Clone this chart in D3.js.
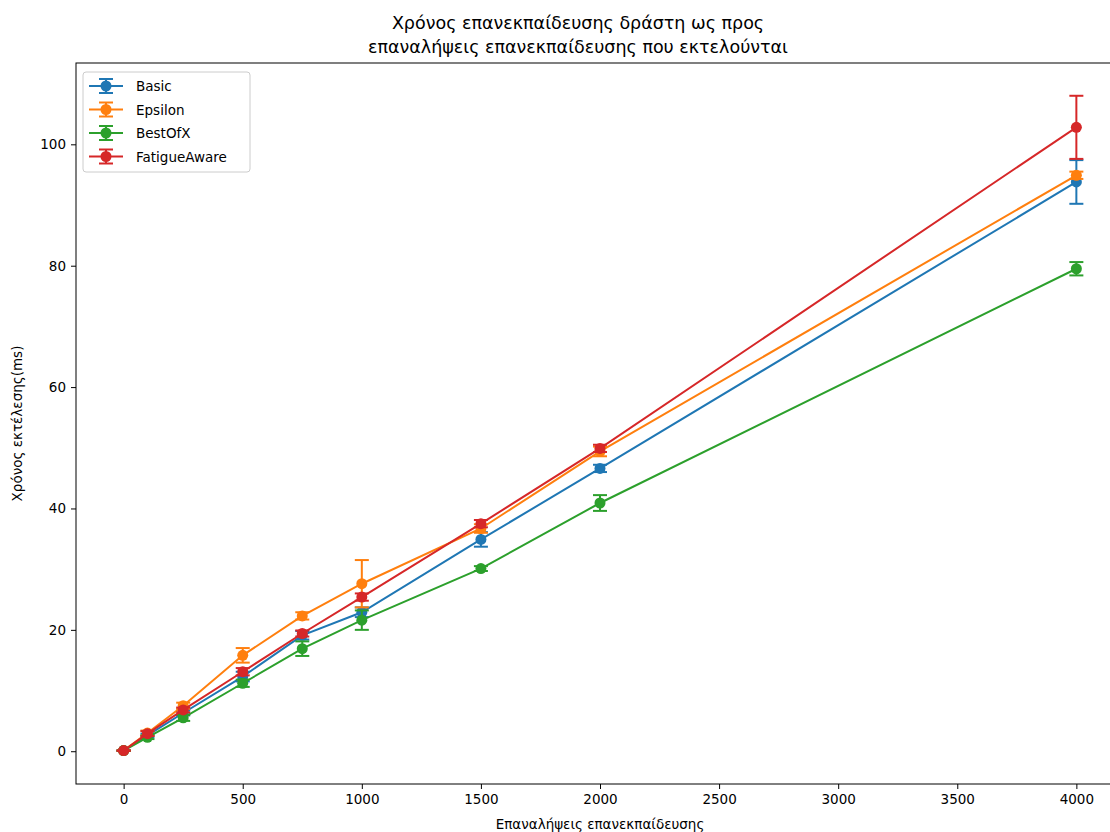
<!DOCTYPE html>
<html>
<head>
<meta charset="utf-8">
<script src="https://cdn.jsdelivr.net/npm/d3@7"></script>
<style>
  html, body { margin: 0; padding: 0; background: #fff; overflow: hidden; }
  svg { display: block; font-family: "DejaVu Sans", sans-serif; }
</style>
</head>
<body>
<svg id="chart" width="1110" height="832"></svg>
<script>
// Retraining iterations on the x axis
const iterations = [0, 100, 250, 500, 750, 1000, 1500, 2000, 4000];

// Mean execution time (ms) per strategy
const basicMean    = [0.1, 2.6, 6.3, 12.3, 19.1, 22.9, 34.9, 46.6, 93.8];
const epsilonMean  = [0.1, 3.0, 7.5, 15.8, 22.3, 27.6, 36.7, 49.4, 94.9];
const bestOfXMean  = [0.1, 2.3, 5.5, 11.2, 16.9, 21.6, 30.1, 40.9, 79.5];
const fatigueMean  = [0.1, 2.9, 6.8, 13.1, 19.4, 25.4, 37.5, 49.9, 102.8];

// Standard deviation per point
const basicErr    = [0.05, 0.3, 0.4, 0.8, 0.7, 0.8, 1.2, 0.6, 3.6];
const epsilonErr  = [0.05, 0.4, 0.5, 1.2, 0.6, 3.9, 0.7, 0.8, 0.6];
const bestOfXErr  = [0.05, 0.3, 0.5, 0.6, 1.2, 1.6, 0.4, 1.3, 1.1];
const fatigueErr  = [0.05, 0.4, 0.4, 0.6, 0.5, 0.6, 0.6, 0.6, 5.2];

const seriesNames  = ["Basic", "Epsilon", "BestOfX", "FatigueAware"];
const seriesColors = ["#1f77b4", "#ff7f0e", "#2ca02c", "#d62728"];
const xTicks = [0, 500, 1000, 1500, 2000, 2500, 3000, 3500, 4000];
const yTicks = [0, 20, 40, 60, 80, 100];

const titleLines = ["Χρόνος επανεκπαίδευσης δράστη ως προς", "επαναλήψεις επανεκπαίδευσης που εκτελούνται"];
const xLabel = "Επαναλήψεις επανεκπαίδευσης";
const yLabel = "Χρόνος εκτέλεσης(ms)";

const series = seriesNames.map((name, i) => ({
  name,
  color: seriesColors[i],
  mean: [basicMean, epsilonMean, bestOfXMean, fatigueMean][i],
  err: [basicErr, epsilonErr, bestOfXErr, fatigueErr][i]
}));

const svg = d3.select("#chart");
const plot = { left: 76, right: 1124, top: 63, bottom: 784 };

const x = d3.scaleLinear().domain([-200, 4200]).range([plot.left, plot.right]);
const y = d3.scaleLinear().domain([-5.4, 113.4]).range([plot.bottom, plot.top]);

// Title
svg.append("g").selectAll("text").data(titleLines).join("text")
  .attr("x", 578).attr("y", (d, i) => 29 + i * 24)
  .attr("text-anchor", "middle").attr("font-size", 17.5).attr("fill", "#000")
  .text(d => d);

// Axes
const xAxis = svg.append("g").attr("transform", `translate(0,${plot.bottom})`)
  .call(d3.axisBottom(x).tickValues(xTicks).tickSize(5).tickPadding(5).tickFormat(d3.format("d")));
const yAxis = svg.append("g").attr("transform", `translate(${plot.left},0)`)
  .call(d3.axisLeft(y).tickValues(yTicks).tickSize(5).tickPadding(5).tickFormat(d3.format("d")));
[xAxis, yAxis].forEach(a => {
  a.select(".domain").remove();
  a.selectAll("text").attr("font-size", 13.5).attr("fill", "#000").attr("font-family", "DejaVu Sans");
  a.selectAll("line").attr("stroke", "#000").attr("stroke-width", 1);
});

// Frame
svg.append("rect")
  .attr("x", plot.left).attr("y", plot.top)
  .attr("width", plot.right - plot.left).attr("height", plot.bottom - plot.top)
  .attr("fill", "none").attr("stroke", "#000").attr("stroke-width", 1);

// Axis labels
svg.append("text").attr("x", 600).attr("y", 829)
  .attr("text-anchor", "middle").attr("font-size", 13.5).text(xLabel);
svg.append("text").attr("transform", `translate(22,${(plot.top + plot.bottom) / 2}) rotate(-90)`)
  .attr("text-anchor", "middle").attr("font-size", 13.5).text(yLabel);

// Series: lines, error bars, markers
const line = d3.line().x(d => x(d[0])).y(d => y(d[1]));
const capHalf = 7;
const gData = svg.append("g");
series.forEach(s => {
  const g = gData.append("g");
  const pts = iterations.map((it, i) => [it, s.mean[i], s.err[i]]);
  g.append("path").datum(pts).attr("d", line)
    .attr("fill", "none").attr("stroke", s.color).attr("stroke-width", 2);
  const eb = g.append("g").selectAll("g").data(pts).join("g");
  eb.append("line")
    .attr("x1", d => x(d[0])).attr("x2", d => x(d[0]))
    .attr("y1", d => y(d[1] - d[2])).attr("y2", d => y(d[1] + d[2]))
    .attr("stroke", s.color).attr("stroke-width", 2);
  [-1, 1].forEach(sign => {
    eb.append("line")
      .attr("x1", d => x(d[0]) - capHalf).attr("x2", d => x(d[0]) + capHalf)
      .attr("y1", d => y(d[1] + sign * d[2])).attr("y2", d => y(d[1] + sign * d[2]))
      .attr("stroke", s.color).attr("stroke-width", 2);
  });
  g.append("g").selectAll("circle").data(pts).join("circle")
    .attr("cx", d => x(d[0])).attr("cy", d => y(d[1])).attr("r", 5.5)
    .attr("fill", s.color);
});

// Legend
const legend = svg.append("g").attr("transform", "translate(83,72)");
legend.append("rect").attr("width", 167).attr("height", 100).attr("rx", 3)
  .attr("fill", "#fff").attr("fill-opacity", 0.8).attr("stroke", "#ccc");
series.forEach((s, i) => {
  const gy = 14 + i * 23.5;
  const item = legend.append("g").attr("transform", `translate(0,${gy})`);
  item.append("line").attr("x1", 6).attr("x2", 40).attr("y1", 0).attr("y2", 0)
    .attr("stroke", s.color).attr("stroke-width", 2);
  item.append("line").attr("x1", 23).attr("x2", 23).attr("y1", -7).attr("y2", 7)
    .attr("stroke", s.color).attr("stroke-width", 2);
  [-7, 7].forEach(dy => item.append("line").attr("x1", 16).attr("x2", 30)
    .attr("y1", dy).attr("y2", dy).attr("stroke", s.color).attr("stroke-width", 2));
  item.append("circle").attr("cx", 23).attr("cy", 0).attr("r", 5.5).attr("fill", s.color);
  item.append("text").attr("x", 53).attr("y", 5).attr("font-size", 13.5).text(s.name);
});
</script>
</body>
</html>
